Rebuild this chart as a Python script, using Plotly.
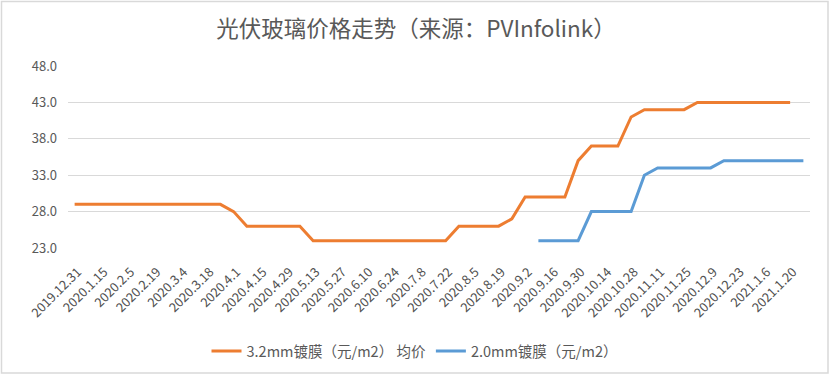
import plotly.graph_objects as go

dates = ["2019.12.31", "2020.1.8", "2020.1.15", "2020.1.22", "2020.2.5", "2020.2.12",
         "2020.2.19", "2020.2.26", "2020.3.4", "2020.3.11", "2020.3.18", "2020.3.25",
         "2020.4.1", "2020.4.8", "2020.4.15", "2020.4.22", "2020.4.29", "2020.5.6",
         "2020.5.13", "2020.5.20", "2020.5.27", "2020.6.3", "2020.6.10", "2020.6.17",
         "2020.6.24", "2020.7.1", "2020.7.8", "2020.7.15", "2020.7.22", "2020.7.29",
         "2020.8.5", "2020.8.12", "2020.8.19", "2020.8.26", "2020.9.2", "2020.9.9",
         "2020.9.16", "2020.9.23", "2020.9.30", "2020.10.7", "2020.10.14", "2020.10.21",
         "2020.10.28", "2020.11.4", "2020.11.11", "2020.11.18", "2020.11.25", "2020.12.2",
         "2020.12.9", "2020.12.16", "2020.12.23", "2020.12.30", "2021.1.6", "2021.1.13",
         "2021.1.20", "2021.1.27"]

tick_labels = dates[0::2]

price_32mm = [29, 29, 29, 29, 29, 29, 29, 29, 29, 29, 29, 29,
              28,
              26, 26, 26, 26, 26,
              24, 24, 24, 24, 24, 24, 24, 24, 24, 24, 24,
              26, 26, 26, 26,
              27,
              30, 30, 30, 30,
              35,
              37, 37, 37,
              41,
              42, 42, 42, 42,
              43, 43, 43, 43, 43, 43, 43, 43,
              None]

price_20mm = [None] * 35 + [24, 24, 24, 24,
                            28, 28, 28, 28,
                            33,
                            34, 34, 34, 34, 34,
                            35, 35, 35, 35, 35, 35, 35]

y_ticks = [23, 28, 33, 38, 43, 48]

name_32 = "3.2mm镀膜（元/m2） 均价"
name_20 = "2.0mm镀膜（元/m2）"
title = "光伏玻璃价格走势（来源：PVInfolink）"

FONT = "Noto Sans CJK SC"
GREY = "#595959"

fig = go.Figure()
fig.add_trace(go.Scatter(x=dates, y=price_32mm, mode="lines", name=name_32,
                         line=dict(color="#ED7D31", width=3), connectgaps=False))
fig.add_trace(go.Scatter(x=dates, y=price_20mm, mode="lines", name=name_20,
                         line=dict(color="#5B9BD5", width=3), connectgaps=False))

W, H = 831, 376
ml, mr, mt, mb = 68, 21, 66, 128
pw, ph = W - ml - mr, H - mt - mb

def px_x(p):
    return (p - ml) / pw

def px_y(p):
    return (H - mb - p) / ph

fig.update_layout(
    width=W, height=H,
    margin=dict(l=ml, r=mr, t=mt, b=mb),
    paper_bgcolor="white", plot_bgcolor="white",
    font=dict(family=FONT, color=GREY, size=13),
    title=dict(text=title, xref="container", x=416 / W, xanchor="center",
               yref="container", y=1 - 29 / H, yanchor="middle",
               font=dict(family=FONT, size=22.5, color=GREY)),
    showlegend=True,
    legend=dict(orientation="h", xref="container", x=415 / W, xanchor="center",
                yref="container", y=1 - 351 / H, yanchor="middle",
                font=dict(family=FONT, size=14.5, color=GREY),
                itemwidth=30, tracegroupgap=0),
    xaxis=dict(type="category", range=[-0.5, len(dates) - 0.5],
               tickmode="array", tickvals=tick_labels, ticktext=tick_labels,
               tickangle=-45, showgrid=False, showline=False, ticks="",
               tickfont=dict(family=FONT, size=12.8, color="#505050"), zeroline=False,
               ticklabelstandoff=13, ticklabelshift=3),
    yaxis=dict(range=[23, 48], tickvals=y_ticks, tickformat=".1f", showgrid=True,
               gridcolor="#d9d9d9", gridwidth=1, showline=False, zeroline=False, ticks="",
               tickfont=dict(family=FONT, size=13, color=GREY), ticklabelstandoff=10),
    shapes=[dict(type="rect", xref="paper", yref="paper",
                 x0=px_x(1.5), x1=px_x(828), y0=px_y(373), y1=px_y(1.5),
                 line=dict(color="#d9d9d9", width=1.5), fillcolor="rgba(0,0,0,0)", layer="below")],
)

fig.write_html("out.html", config={"displayModeBar": False},
               post_script="document.body.style.margin='0px';")
